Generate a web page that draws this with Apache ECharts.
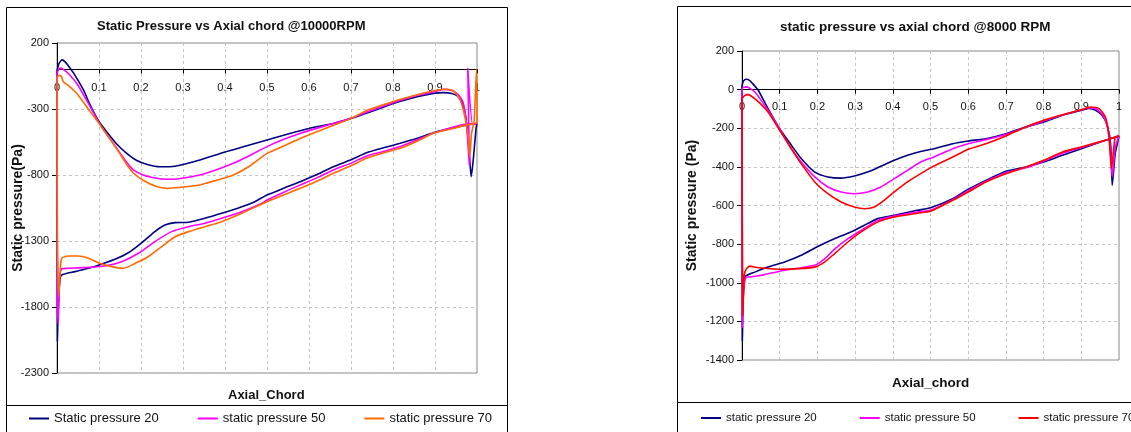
<!DOCTYPE html>
<html>
<head>
    <meta charset="utf-8">
    <style>
        body { margin: 0; background: #fff; }
        #main { width: 1131px; height: 432px; }
    </style>
    <script src="https://cdn.jsdelivr.net/npm/echarts@6/dist/echarts.min.js"></script>
</head>
<body>
    <div id="main"></div>
    <script type="text/javascript">
        // 10000 RPM chart, [axial chord, static pressure] pairs
        var fast20Upper = [[0, -20], [0.004, 40], [0.012, 72], [0.02, 55], [0.03, 15], [0.04, -30], [0.063, -156], [0.079, -270], [0.1, -395], [0.12, -480], [0.142, -565], [0.166, -636], [0.19, -690], [0.215, -720], [0.245, -737], [0.27, -737], [0.3, -720], [0.34, -686], [0.4, -625], [0.45, -580], [0.5, -535], [0.55, -490], [0.6, -448], [0.66, -408], [0.7, -371], [0.74, -328], [0.78, -282], [0.82, -240], [0.86, -205], [0.9, -180], [0.92, -176], [0.94, -182], [0.955, -205], [0.967, -270], [0.975, -400], [0.981, -600], [0.986, -812], [0.99, -720], [0.994, -580], [0.998, -440], [1.0, -410]];
        var fast20Lower = [[1.0, -410], [0.97, -425], [0.94, -445], [0.896, -480], [0.86, -520], [0.817, -560], [0.78, -592], [0.737, -632], [0.7, -685], [0.658, -737], [0.62, -795], [0.579, -851], [0.54, -900], [0.5, -951], [0.471, -1002], [0.44, -1040], [0.392, -1090], [0.352, -1128], [0.313, -1158], [0.281, -1161], [0.257, -1179], [0.233, -1229], [0.2, -1318], [0.17, -1389], [0.138, -1439], [0.1, -1482], [0.075, -1507], [0.043, -1532], [0.011, -1558], [0.007, -1595], [0.003, -1800], [0.001, -2060]];
        var fast50Upper = [[0, -30], [0.004, 0], [0.008, 10], [0.015, 0], [0.03, -40], [0.05, -120], [0.075, -260], [0.1, -405], [0.12, -500], [0.142, -597], [0.165, -700], [0.182, -762], [0.205, -800], [0.237, -825], [0.261, -832], [0.29, -828], [0.34, -800], [0.38, -760], [0.42, -711], [0.46, -650], [0.5, -585], [0.54, -530], [0.58, -484], [0.62, -445], [0.66, -408], [0.7, -371], [0.74, -320], [0.78, -275], [0.82, -232], [0.86, -195], [0.9, -169], [0.92, -151], [0.94, -160], [0.955, -190], [0.967, -250], [0.975, -420], [0.982, -730], [0.978, 10], [0.99, -420], [1.0, -410]];
        var fast50Lower = [[1.0, -410], [0.975, -414], [0.94, -440], [0.896, -484], [0.86, -530], [0.817, -585], [0.78, -620], [0.737, -656], [0.7, -710], [0.658, -762], [0.62, -820], [0.579, -876], [0.54, -930], [0.5, -990], [0.487, -1015], [0.44, -1078], [0.392, -1128], [0.352, -1166], [0.313, -1192], [0.273, -1229], [0.233, -1305], [0.194, -1393], [0.154, -1457], [0.114, -1490], [0.075, -1500], [0.027, -1507], [0.011, -1510], [0.006, -1600], [0.003, -1930], [0.001, -1700]];
        var fast70Upper = [[0, -60], [0.004, -45], [0.01, -50], [0.015, -93], [0.03, -130], [0.047, -181], [0.079, -320], [0.1, -408], [0.12, -500], [0.142, -600], [0.166, -720], [0.182, -785], [0.205, -840], [0.237, -888], [0.261, -901], [0.29, -895], [0.34, -876], [0.38, -840], [0.42, -800], [0.46, -730], [0.5, -636], [0.54, -580], [0.58, -522], [0.62, -470], [0.66, -421], [0.7, -371], [0.74, -308], [0.78, -265], [0.82, -225], [0.86, -190], [0.9, -160], [0.928, -150], [0.945, -165], [0.96, -232], [0.971, -358], [0.979, -510], [0.983, -661], [0.987, -484], [0.993, -396], [0.999, 0], [1.0, -400]];
        var fast70Lower = [[1.0, -400], [0.975, -421], [0.94, -450], [0.896, -484], [0.86, -540], [0.817, -598], [0.78, -630], [0.737, -674], [0.7, -730], [0.658, -787], [0.62, -845], [0.579, -901], [0.54, -950], [0.5, -1002], [0.44, -1090], [0.392, -1154], [0.352, -1192], [0.313, -1229], [0.281, -1268], [0.249, -1343], [0.217, -1419], [0.186, -1469], [0.158, -1507], [0.13, -1494], [0.098, -1464], [0.075, -1431], [0.051, -1414], [0.027, -1414], [0.011, -1431], [0.007, -1550], [0.004, -1720], [0.002, -1500], [0.001, -1300]];

        // 8000 RPM chart
        var slow20Upper = [[0, 20], [0.004, 45], [0.012, 54], [0.02, 48], [0.026, 36], [0.043, -3], [0.069, -98], [0.1, -202], [0.131, -288], [0.157, -357], [0.193, -427], [0.228, -452], [0.263, -458], [0.298, -447], [0.333, -427], [0.368, -397], [0.404, -366], [0.439, -340], [0.474, -320], [0.509, -306], [0.559, -280], [0.6, -266], [0.647, -254], [0.7, -228], [0.753, -193], [0.8, -168], [0.85, -133], [0.9, -107], [0.92, -98], [0.938, -107], [0.955, -133], [0.969, -185], [0.978, -288], [0.982, -496], [0.99, -330], [1.0, -240]];
        var slow20Lower = [[1.0, -240], [0.964, -262], [0.9, -306], [0.85, -340], [0.8, -375], [0.753, -401], [0.7, -423], [0.647, -470], [0.6, -516], [0.559, -565], [0.5, -612], [0.465, -625], [0.404, -651], [0.36, -668], [0.333, -694], [0.289, -737], [0.245, -772], [0.201, -812], [0.157, -858], [0.113, -893], [0.069, -919], [0.034, -945], [0.008, -970], [0.003, -1100], [0.001, -1300]];
        var slow50Upper = [[0, 5], [0.005, 12], [0.012, 14], [0.034, -12], [0.069, -107], [0.1, -205], [0.131, -306], [0.157, -375], [0.193, -452], [0.228, -504], [0.263, -530], [0.298, -539], [0.333, -530], [0.368, -504], [0.404, -461], [0.439, -418], [0.474, -375], [0.509, -349], [0.559, -306], [0.6, -280], [0.647, -259], [0.7, -232], [0.753, -195], [0.8, -163], [0.85, -131], [0.9, -104], [0.92, -95], [0.94, -100], [0.958, -135], [0.97, -200], [0.977, -300], [0.982, -452], [0.99, -300], [1.0, -240]];
        var slow50Lower = [[1.0, -240], [0.964, -262], [0.9, -300], [0.85, -330], [0.8, -370], [0.753, -405], [0.7, -430], [0.647, -475], [0.6, -523], [0.559, -570], [0.5, -625], [0.465, -634], [0.404, -655], [0.36, -677], [0.316, -729], [0.281, -772], [0.245, -827], [0.219, -876], [0.193, -910], [0.157, -922], [0.1, -940], [0.06, -958], [0.03, -968], [0.01, -975], [0.004, -1050], [0.001, -1230]];
        var slow70Upper = [[0, -47], [0.006, -32], [0.015, -26], [0.034, -47], [0.069, -116], [0.1, -211], [0.131, -306], [0.157, -383], [0.193, -478], [0.228, -539], [0.263, -582], [0.298, -608], [0.325, -617], [0.351, -608], [0.377, -573], [0.404, -530], [0.439, -478], [0.474, -435], [0.5, -405], [0.559, -349], [0.6, -309], [0.647, -280], [0.7, -240], [0.753, -193], [0.8, -159], [0.85, -130], [0.9, -104], [0.925, -90], [0.947, -98], [0.964, -142], [0.973, -237], [0.98, -409], [0.99, -245], [1.0, -240]];
        var slow70Lower = [[1.0, -240], [0.964, -262], [0.9, -297], [0.85, -323], [0.8, -366], [0.753, -401], [0.7, -435], [0.647, -478], [0.6, -530], [0.559, -573], [0.5, -630], [0.465, -640], [0.404, -660], [0.36, -686], [0.316, -737], [0.281, -789], [0.245, -850], [0.219, -893], [0.193, -919], [0.15, -927], [0.1, -930], [0.06, -925], [0.035, -920], [0.021, -914], [0.012, -927], [0.006, -960], [0.002, -1169]];

        var legendNames = {
            L20: 'Static pressure 20', L50: 'static pressure 50', L70: 'static pressure 70',
            R20: 'static pressure 20', R50: 'static pressure 50', R70: 'static pressure 70'
        };
        var fontName = 'Liberation Sans';

        // upper surface, then lower surface back to the leading edge, closed
        function loop(upper, lower) {
            return upper.concat(lower, [upper[0]]);
        }

        function plain(v) {
            return String(v);
        }

        function curve(name, idx, color, data) {
            return {
                name: name,
                type: 'line',
                xAxisIndex: idx,
                yAxisIndex: idx,
                data: data,
                showSymbol: false,
                symbol: 'none',
                smooth: 0.2,
                color: color,
                lineStyle: { width: 1.6, color: color },
                animation: false
            };
        }

        // x axis sits on the zero line, like Excel does
        function xAx(idx, lift, gap) {
            return {
                type: 'value', gridIndex: idx, min: 0, max: 1, interval: 0.1,
                position: 'bottom', offset: -lift,
                axisLine: { onZero: false, lineStyle: { color: '#000', width: 1 } },
                axisTick: { show: true, length: 4, lineStyle: { color: '#000' } },
                axisLabel: { margin: gap, fontSize: 11, color: '#111', fontFamily: fontName, formatter: plain },
                splitLine: { show: true, lineStyle: { color: '#c4c4c4', type: [3, 3] } }
            };
        }

        function yAx(idx, min, max, step, name, gap) {
            return {
                type: 'value', gridIndex: idx, min: min, max: max, interval: step,
                name: name, nameLocation: 'middle', nameGap: gap, nameMoveOverlap: false,
                nameTextStyle: { fontSize: 14, fontWeight: 'bold', color: '#111', fontFamily: fontName },
                axisLine: { show: true, onZero: false, lineStyle: { color: '#000', width: 1 } },
                axisTick: { show: true, length: 5, lineStyle: { color: '#000' } },
                axisLabel: { margin: 8, fontSize: 11, color: '#111', fontFamily: fontName, formatter: plain },
                splitLine: { show: true, lineStyle: { color: '#c4c4c4', type: [3, 3] } }
            };
        }

        function legendFor(left, names, fs, gap) {
            return {
                left: left, top: 412, width: 500, orient: 'horizontal',
                data: names, icon: 'rect', itemWidth: 20, itemHeight: 2, itemGap: gap,
                padding: 0, selectedMode: false,
                formatter: function (n) { return legendNames[n]; },
                textStyle: { fontSize: fs, color: '#111', fontFamily: fontName }
            };
        }

        var myChart = echarts.init(document.getElementById('main'));
        var option = {
            backgroundColor: '#fff',
            animation: false,
            title: [
                { text: 'Static Pressure vs Axial chord @10000RPM', left: 97, top: 20, padding: 0,
                  textStyle: { fontSize: 13, fontWeight: 'bold', color: '#111', fontFamily: fontName } },
                { text: 'static pressure vs axial chord @8000 RPM', left: 780, top: 20, padding: 0,
                  textStyle: { fontSize: 13.5, fontWeight: 'bold', color: '#111', fontFamily: fontName } },
                { text: 'Axial_Chord', left: 228, top: 389, padding: 0,
                  textStyle: { fontSize: 13, fontWeight: 'bold', color: '#111', fontFamily: fontName } },
                { text: 'Axial_chord', left: 892, top: 376, padding: 0,
                  textStyle: { fontSize: 13.5, fontWeight: 'bold', color: '#111', fontFamily: fontName } }
            ],
            legend: [
                legendFor(29, ['L20', 'L50', 'L70'], 13, 39),
                legendFor(701, ['R20', 'R50', 'R70'], 11.5, 43)
            ],
            grid: [
                { left: 57, top: 43, width: 420, height: 330, show: true, borderColor: '#888', borderWidth: 1 },
                { left: 742, top: 51, width: 377, height: 309, show: true, borderColor: '#888', borderWidth: 1 }
            ],
            xAxis: [xAx(0, 330 * 2300 / 2500, 13), xAx(1, 309 * 1400 / 1600, 12)],
            yAxis: [
                yAx(0, -2300, 200, 500, 'Static pressure(Pa)', 32),
                yAx(1, -1400, 200, 200, 'Static pressure (Pa)', 43)
            ],
            graphic: [
                { type: 'rect', silent: true, shape: { x: 6.5, y: 7.5, width: 501, height: 440 },
                  style: { fill: 'none', stroke: '#000', lineWidth: 1 } },
                { type: 'line', silent: true, shape: { x1: 6, y1: 405.5, x2: 508, y2: 405.5 },
                  style: { stroke: '#000', lineWidth: 1 } },
                { type: 'rect', silent: true, shape: { x: 677.5, y: 6.5, width: 470, height: 440 },
                  style: { fill: 'none', stroke: '#000', lineWidth: 1 } },
                { type: 'line', silent: true, shape: { x1: 677, y1: 402.5, x2: 1131, y2: 402.5 },
                  style: { stroke: '#000', lineWidth: 1 } }
            ],
            series: [
                curve('L20', 0, '#000080', loop(fast20Upper, fast20Lower)),
                curve('L50', 0, '#ff00ff', loop(fast50Upper, fast50Lower)),
                curve('L70', 0, '#ff6a00', loop(fast70Upper, fast70Lower)),
                curve('R20', 1, '#000080', loop(slow20Upper, slow20Lower)),
                curve('R50', 1, '#ff00ff', loop(slow50Upper, slow50Lower)),
                curve('R70', 1, '#ff0000', loop(slow70Upper, slow70Lower))
            ]
        };
        myChart.setOption(option);
    </script>
</body>
</html>
